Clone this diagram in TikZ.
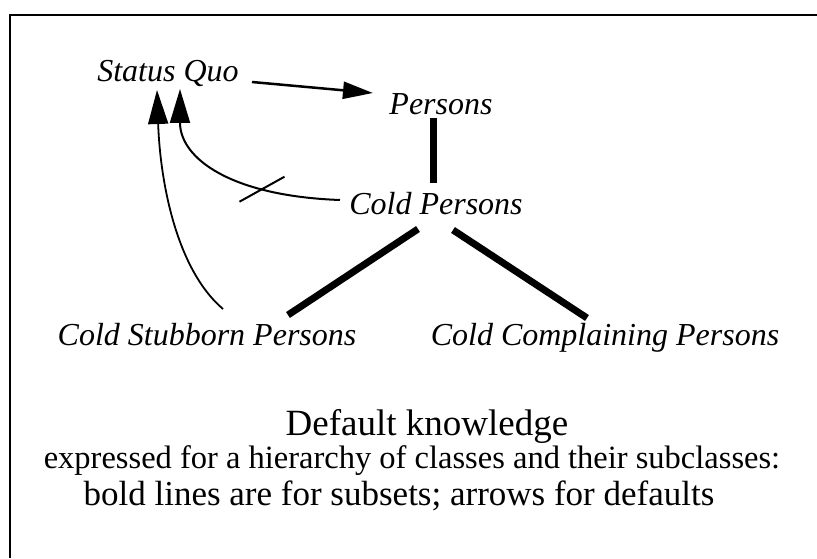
\documentclass[tikz,border=0pt]{standalone}
\usepackage{fontspec}
\setmainfont{Liberation Serif}
\usetikzlibrary{arrows.meta, positioning, calc}

\begin{document}
\begin{tikzpicture}[x=1pt, y=1pt,
        cls/.style={font=\fontsize{32}{38}\selectfont\itshape, inner sep=0pt, anchor=base},
        caption/.style={font=\fontsize{32.5}{38}\selectfont, inner sep=0pt, anchor=base},
        subset/.style={line width=7pt},
        dflt/.style={line width=2pt, -{Triangle[length=34pt, width=20pt]}}
    ]
        \useasboundingbox (0,0) rectangle (817,558);
        \draw[line width=2.5pt] (10,0) -- (10,543) -- (817,543);

        % classes
        \node[cls] (sq) at (168,476) {Status Quo};
        \node[cls] (persons) at (441,443) {Persons};
        \node[cls] (cold) at (436,343) {Cold Persons};
        \node[cls] (stub) at (207,213) {Cold Stubborn Persons};
        \node[cls] (compl) at (605,213) {Cold Complaining Persons};

        % subsets
        \draw[subset] ($(persons.base)+(-8,-3)$) -- ($(cold.base)+(-3,32)$);
        \draw[subset] ($(cold.base)+(-18,-14)$) -- ($(stub.base)+(81,30)$);
        \draw[subset] ($(cold.base)+(17,-15)$) -- ($(compl.base)+(-18,27)$);

        % defaults
        \draw[line width=2.5pt, -{Triangle[length=30pt, width=17pt]}]
            ($(sq.base)+(84,0)$) -- ($(persons.base)+(-68,22)$);
        \draw[dflt] ($(cold.base)+(-96,15)$) .. controls (230,362) and (180,400) ..
            coordinate[pos=0.28] (xmark) ($(sq.base)+(12,-7)$);
        \draw[line width=2pt] ($(xmark)+(-22,-13)$) -- ($(xmark)+(23,12)$);
        \draw[dflt, line width=1.8pt] ($(stub.base)+(16,36)$) .. controls (175,290) and (160,380) ..
            ($(sq.base)+(-11,-8)$);

        % caption
        \node[caption, font=\fontsize{37}{42}\selectfont] (title) at (427,123) {Default knowledge};
        \node[caption] (line1) at (412,90) {expressed for a hierarchy of classes and their subclasses:};
        \node[caption, font=\fontsize{35}{40}\selectfont] (line2) at (399,53) {bold lines are for subsets; arrows for defaults};
\end{tikzpicture}
\end{document}
